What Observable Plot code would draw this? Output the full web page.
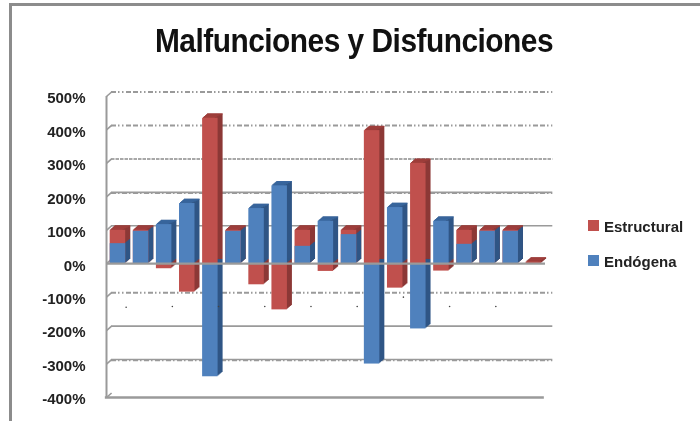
<!DOCTYPE html>
<html>
<head>
<meta charset="utf-8">
<script src="https://cdn.jsdelivr.net/npm/d3@7"></script>
<script src="https://cdn.jsdelivr.net/npm/@observablehq/plot@0.6"></script>
<style>
html,body{margin:0;padding:0;background:#fff;width:700px;height:421px;overflow:hidden}
#frame{position:absolute;left:9px;top:3px;width:691px;height:418px;border-top:3px solid #8c8c8c;border-left:3px solid #8c8c8c;box-sizing:border-box}
#title{position:absolute;left:0;width:708px;top:22px;text-align:center;font:bold 33px "Liberation Sans",Arial,sans-serif;color:#111;letter-spacing:-.55px;transform:scaleX(.905);filter:blur(.35px)}
#chart{position:absolute;left:0;top:0;filter:blur(.55px)}
.leg{position:absolute;left:604px;font:bold 15px "Liberation Sans",Arial,sans-serif;color:#222;filter:blur(.3px);transform-origin:left center}
.sw{position:absolute;left:588px;width:11px;height:11px}
</style>
</head>
<body>
<div id="frame"></div>
<div id="chart"></div>
<div id="title">Malfunciones y Disfunciones</div>
<div class="sw" style="top:220px;background:#c0504d"></div><div class="leg" style="top:218px">Estructural</div>
<div class="sw" style="top:255px;background:#4f81bd"></div><div class="leg" style="top:253px">Endógena</div>
<script>
const categories = d3.range(19);
const estructural = [100,100,-15,-85,435,100,-63,-138,100,-23,100,398,-73,300,-22,100,100,100,5];
const endogena = [60,97,117,180,-338,97,165,233,52,127,87,-300,168,-195,127,58,97,97,0];
const yTicks = [500,400,300,200,100,0,-100,-200,-300,-400];
const gridDotted = [500,400,-100];
const gridWavy = [300];
const gridSolid = [200,100,-200,-300];
const gridDottedOverlay = [200,-300];
const strayX = [0.85,2.85,4.85,6.85,8.85,10.85,12.85,14.85,16.85];
const strayY = [-130,-128,-128,-128,-128,-128,-100,-128,-128];

const rows = categories.map(i => ({i, red: estructural[i], blue: endogena[i]}));
const barX1 = d => d.i + 0.16, barX2 = d => d.i + 0.83;
const offsets = [1,2,3,4,5];
const depthY = k => -k * 0.85;

function extrude(data, y1, y2, fill) {
  return offsets.map(k => Plot.rectY(data, {x1: barX1, x2: barX2, y1, y2, fill, dx: k, dy: depthY(k)}));
}
function topFace(data, key, fill) {
  return offsets.map(k => Plot.rectY(data.filter(d => d[key] > 0), {
    x1: barX1, x2: d => barX2(d) - 0.04 * (5 - k) , y1: d => d[key], y2: d => d[key] - 3, fill, dx: k, dy: depthY(k)}));
}
const overlap = rows.filter(d => d.red > d.blue && d.blue > 0);
const gridOpts = {x1: 0, x2: 19.1, stroke: "#9a9a9a", strokeWidth: 2, dx: 5, dy: -4.5};

const plot = Plot.plot({
  width: 700, height: 421,
  marginLeft: 106, marginRight: 155, marginTop: 96, marginBottom: 24,
  style: {background: "transparent", overflow: "visible"},
  x: {type: "linear", domain: [0, 19], axis: null},
  y: {domain: [-400, 500], axis: null},
  marks: [
    Plot.ruleY(gridDotted, {...gridOpts, strokeDasharray: "5 2 1.5 2.5 1.5 2.5 5 2 5 2 1.5 2.5 1.5 2.5"}),
    Plot.ruleY(gridWavy, {...gridOpts, strokeDasharray: "3.5 1", stroke: "#a8a8a8"}),
    Plot.ruleY(gridSolid, {...gridOpts, strokeWidth: 1.6}),
    Plot.ruleY(gridDottedOverlay, {...gridOpts, dy: -3.5, strokeWidth: 1.4, strokeDasharray: "5 2 1.5 2.5"}),
    Plot.link(yTicks, {x1: 0, x2: 0.22, y1: d => d, y2: d => d + 13.5, stroke: "#9a9a9a", strokeWidth: 1.6}),
    Plot.ruleX([0], {y1: -400, y2: 500, stroke: "#9a9a9a", strokeWidth: 2}),
    Plot.ruleY([-400], {x1: -0.05, x2: 18.95, stroke: "#9a9a9a", strokeWidth: 2.4}),
    ...extrude(rows, () => 0, d => d.red, "#8c3836"),
    ...extrude(rows, () => 0, d => d.blue, "#2f5585"),
    ...extrude(overlap, d => d.blue, d => d.red, "#8c3836"),
    ...topFace(rows.filter(d => d.blue < d.red || d.blue <= 0), "red", "#a13f3c"),
    ...topFace(rows.filter(d => d.blue >= d.red), "blue", "#3a68a0"),
    Plot.rectY(rows, {x1: barX1, x2: barX2, y1: () => 0, y2: d => d.red, fill: "#c0504d"}),
    Plot.rectY(rows, {x1: barX1, x2: barX2, y1: () => 0, y2: d => d.blue, fill: "#4f81bd"}),
    Plot.ruleY([0], {x1: 0, x2: 19, stroke: "#9a9a9a", strokeWidth: 2.2}),
    Plot.dot(strayX.map((x, i) => ({x, y: strayY[i]})), {x: "x", y: "y", r: 0.8, fill: "#444"}),
    Plot.axisY(yTicks, {anchor: "left", label: null, tickSize: 0, tickPadding: 21, tickFormat: d => d + "%", dy: 2,
      fontSize: 15, fontWeight: "bold", fontFamily: "Liberation Sans", fill: "#222"})
  ]
});
document.getElementById("chart").append(plot);
</script>
</body>
</html>
